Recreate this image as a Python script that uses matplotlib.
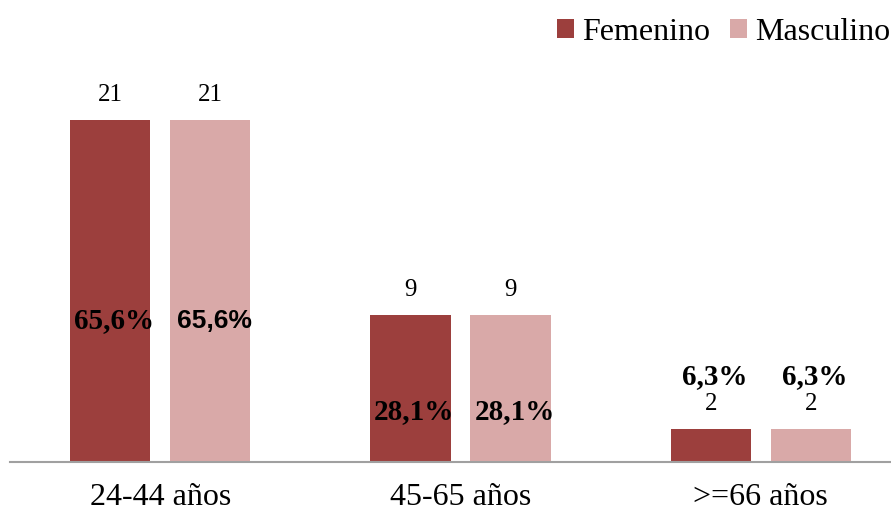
import matplotlib
matplotlib.use("Agg")
import matplotlib.pyplot as plt
import numpy as np

# data
categories = ["24-44 años", "45-65 años", ">=66 años"]
femenino = [21, 9, 2]
masculino = [21, 9, 2]
pct_labels = ["65,6%", "28,1%", "6,3%"]

# where the percentage labels sit (data units), as in the original
pct_y = [8.66, 3.07, 5.22]

col_fem = "#9C3F3D"
col_masc = "#D9A9A8"
serif = "Liberation Serif"


def main():
    fig = plt.figure(figsize=(8.91, 5.13), dpi=100)
    ax = fig.add_axes([10 / 891, 51 / 513, 901 / 891, 456 / 513])

    x = np.arange(len(categories))
    w = 0.267
    off = 0.1667
    b1 = ax.bar(x - off, femenino, w, color=col_fem, label="Femenino", zorder=2)
    b2 = ax.bar(x + off, masculino, w, color=col_masc, label="Masculino", zorder=2)

    # counts above the bars
    for bars, vals in ((b1, femenino), (b2, masculino)):
        for rect, v in zip(bars, vals):
            ax.annotate(str(v), (rect.get_x() + rect.get_width() / 2, v),
                        xytext=(0, 25), textcoords="offset pixels",
                        ha="center", va="center", fontsize=18, family=serif)

    # percentage labels
    for i, (lab, yy) in enumerate(zip(pct_labels, pct_y)):
        ax.annotate(lab, (x[i] - off, yy), xytext=(4, 0), textcoords="offset pixels",
                    ha="center", va="center", fontsize=21, fontweight="bold", family=serif)
        fam2 = "Liberation Sans" if i == 0 else serif
        fs2 = 19 if i == 0 else 21
        ax.annotate(lab, (x[i] + off, yy), xytext=(4, 0), textcoords="offset pixels",
                    ha="center", va="center", fontsize=fs2, fontweight="bold", family=fam2)

    ax.set_xlim(-0.5, 2.5)
    ax.set_ylim(0, 28)
    ax.set_xticks(x)
    ax.set_xticklabels(categories, fontsize=23, family=serif)
    ax.tick_params(axis="x", length=0, pad=15)
    ax.set_yticks([])
    for s in ("top", "right", "left"):
        ax.spines[s].set_visible(False)
    ax.spines["bottom"].set_color("#A0A0A0")
    ax.spines["bottom"].set_linewidth(1.5)

    fig.legend(loc="upper right", bbox_to_anchor=(1.01, 0.984), ncol=2, frameon=False,
               prop={"family": serif, "size": 23}, handlelength=0.55, handleheight=0.55,
               handletextpad=0.25, columnspacing=0.6, borderaxespad=0.0, borderpad=0.3)

    fig.savefig("out.png", dpi=100)


if __name__ == "__main__":
    main()
